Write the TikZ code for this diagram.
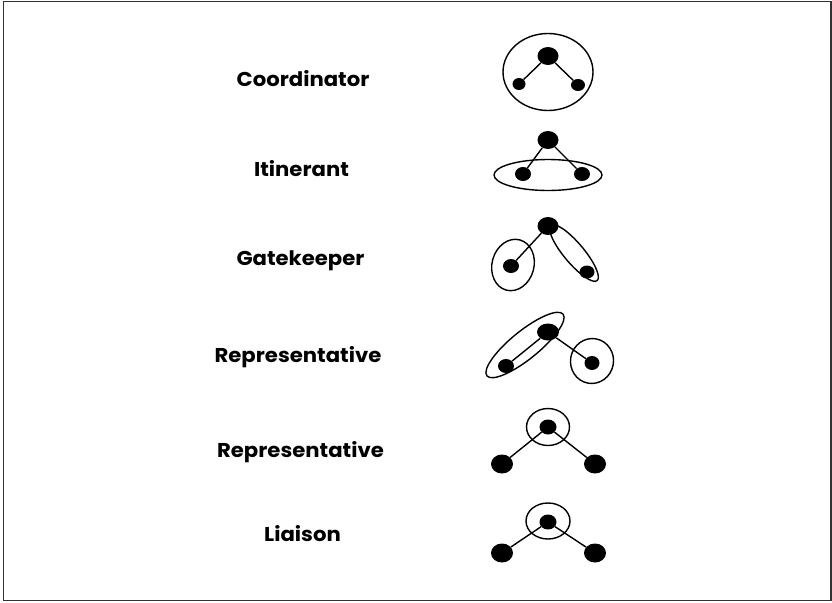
\documentclass[tikz,border=0pt]{standalone}
\usepackage{fontspec}
\setmainfont{Poppins}
\usetikzlibrary{shapes.geometric}
\newcommand\widelbl[1]{\scalebox{1.06}[1]{#1}}
\begin{document}
\begin{tikzpicture}[x=1pt,y=-1pt,
  lbl/.style={font=\bfseries\fontsize{20}{24}\selectfont, text=black, inner sep=0pt, anchor=base},
  big/.style={ellipse, fill=black, inner sep=0pt, minimum width=21pt, minimum height=18pt},
  sml/.style={ellipse, fill=black, inner sep=0pt, minimum width=14pt, minimum height=12pt},
  lrg/.style={ellipse, fill=black, inner sep=0pt, minimum width=22pt, minimum height=19pt},
  mid/.style={ellipse, fill=black, inner sep=0pt, minimum width=17pt, minimum height=15pt},
  ring/.style={ellipse, draw=black, line width=1.4pt, inner sep=0pt},
  link/.style={draw=black, line width=1.4pt}]
\useasboundingbox (0,0) rectangle (832,602);
\draw[line width=1.5pt, draw=black!80] (3.5,1.5) rectangle (831,600.5);

% labels
\node[lbl] (t1) at (303,86) {\widelbl{Coordinator}};
\node[lbl] (t2) at (301.5,176) {\widelbl{Itinerant}};
\node[lbl] (t3) at (300.5,265) {\widelbl{Gatekeeper}};
\node[lbl] (t4) at (298,362) {\widelbl{Representative}};
\node[lbl] (t5) at (300.5,457) {\widelbl{Representative}};
\node[lbl] (t6) at (302.5,541) {\widelbl{Liaison}};

% 1 Coordinator
\node[ring, minimum width=90pt, minimum height=77pt] (e1) at (548,72) {};
\node[big] (a1) at (548,56) {};
\node[sml, minimum width=13pt] (b1) at (519,84) {};
\node[sml] (c1) at (578,85) {};
\draw[link] (a1) -- (b1);
\draw[link] (a1) -- (c1);

% 2 Itinerant
\node[ring, minimum width=108pt, minimum height=31pt] (e2) at (548,175) {};
\node[big] (a2) at (548,140) {};
\node[sml, minimum width=16pt, minimum height=14pt] (b2) at (523,174) {};
\node[sml, minimum width=16pt, minimum height=14pt] (c2) at (582,174) {};
\draw[link] (a2) -- (b2);
\draw[link] (a2) -- (c2);

% 3 Gatekeeper
\node[ring, minimum width=42pt, minimum height=52pt, rotate=-15] (e3a) at (513,265) {};
\node[ring, minimum width=72pt, minimum height=20pt, rotate=-50] (e3b) at (574,253) {};
\node[big] (a3) at (548,226) {};
\node[sml, minimum width=16pt, minimum height=14pt] (b3) at (511,266) {};
\node[sml, minimum width=15pt, minimum height=13pt] (c3) at (587,272) {};
\draw[link] (a3) -- (b3);

% 4 Representative
\node[ring, minimum width=98pt, minimum height=28pt, rotate=39] (e4a) at (525,345) {};
\node[ring, minimum width=43pt, minimum height=45pt, rotate=-10] (e4b) at (592,361) {};
\node[lrg, minimum height=17pt] (a4) at (548,332) {};
\node[mid, minimum width=16pt, minimum height=14pt] (b4) at (506,366) {};
\node[mid, minimum width=15pt, minimum height=14pt] (c4) at (592,363) {};
\draw[link] (a4) -- (b4);
\draw[link] (a4) -- (c4);

% 5 Representative
\node[ring, minimum width=43pt, minimum height=37pt] (e5) at (548,427) {};
\node[mid] (a5) at (548,427) {};
\node[lrg] (b5) at (502,464) {};
\node[lrg] (c5) at (595,464) {};
\draw[link] (a5) -- (b5);
\draw[link] (a5) -- (c5);

% 6 Liaison
\node[ring, minimum width=44pt, minimum height=36pt] (e6) at (548,521) {};
\node[mid] (a6) at (548,522) {};
\node[lrg] (b6) at (502,553) {};
\node[lrg] (c6) at (595,553) {};
\draw[link] (a6) -- (b6);
\draw[link] (a6) -- (c6);
\end{tikzpicture}
\end{document}
